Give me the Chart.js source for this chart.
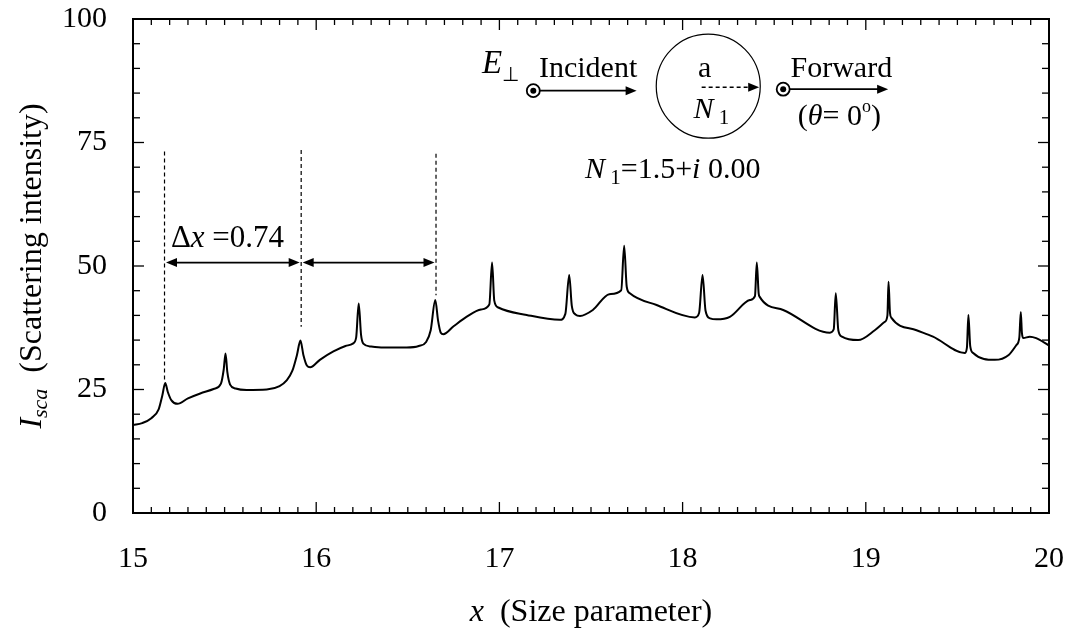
<!DOCTYPE html>
<html>
<head>
<meta charset="utf-8">
<script src="https://cdn.jsdelivr.net/npm/chart.js@4/dist/chart.umd.min.js"></script>
<style>
  body { margin: 0; background: #fff; }
</style>
</head>
<body>
<canvas id="chart" width="1077" height="632"></canvas>
<script>
// size parameter x and forward scattering intensity
const xVals = [
  15.00, 15.05, 15.10, 15.14, 15.16, 15.176, 15.19, 15.21, 15.243, 15.30,
  15.367, 15.44, 15.48, 15.495, 15.505, 15.515, 15.53, 15.56, 15.62, 15.73,
  15.80, 15.84, 15.87, 15.895, 15.914, 15.93, 15.95, 15.967, 16.02, 16.094,
  16.16, 16.20, 16.218, 16.232, 16.245, 16.257, 16.30, 16.367, 16.494, 16.56,
  16.60, 16.625, 16.65, 16.665, 16.68, 16.694, 16.75, 16.82, 16.90, 16.945,
  16.96, 16.972, 16.994, 17.149, 17.33, 17.36, 17.381, 17.395, 17.415, 17.44,
  17.51, 17.60, 17.665, 17.681, 17.695, 17.712, 17.858, 18.067, 18.09, 18.109,
  18.125, 18.15, 18.185, 18.258, 18.367, 18.395, 18.405, 18.415, 18.42, 18.549,
  18.804, 18.825, 18.836, 18.85, 18.87, 18.958, 19.049, 19.104, 19.118, 19.124,
  19.132, 19.14, 19.277, 19.367, 19.54, 19.552, 19.56, 19.57, 19.586, 19.704,
  19.78, 19.822, 19.838, 19.846, 19.852, 19.86, 19.895, 19.93, 20.00
];
const yVals = [
  17.8, 18.2, 19.2, 21.0, 23.8, 26.3, 24.5, 22.8, 22.1, 23.2,
  24.2, 25.1, 26.2, 29.0, 32.3, 28.5, 26.0, 25.2, 24.9, 25.0,
  25.7, 26.9, 28.8, 32.0, 34.9, 32.0, 29.8, 29.5, 31.0, 32.7,
  33.8, 34.3, 35.5, 42.4, 36.0, 34.3, 33.7, 33.5, 33.5, 33.8,
  34.6, 37.0, 43.1, 39.0, 36.5, 36.2, 37.8, 39.7, 41.2, 42.2,
  50.7, 43.0, 41.6, 40.1, 39.1, 40.3, 48.2, 42.0, 40.2, 39.9,
  41.1, 44.3, 45.1, 54.1, 45.8, 44.5, 42.1, 39.6, 40.5, 48.2,
  41.0, 39.4, 39.2, 39.7, 43.1, 43.9, 50.7, 44.5, 43.8, 41.1,
  36.5, 37.2, 44.5, 37.0, 35.7, 35.0, 37.0, 38.7, 40.0, 46.8,
  40.5, 39.5, 37.0, 35.7, 32.4, 33.5, 40.1, 33.8, 32.4, 31.0,
  32.0, 34.0, 35.5, 40.7, 36.5, 35.4, 35.7, 35.4, 33.9
];

const xTicks = [15, 16, 17, 18, 19, 20];
const yTicks = [0, 25, 50, 75, 100];

// resonance spacing markers
const markX = [15.172, 15.918, 16.654];
const markTop = [73.2, 73.5, 72.7];
const markBottom = [26.6, 37.7, 44.1];
const spacingY = 50.7;
const spacingLabel = '0.74';

const SERIF = '"Liberation Serif", "Times New Roman", serif';

function drawRuns(ctx, runs, x, y, align) {
  let w = 0;
  runs.forEach(r => { ctx.font = r.font; r.w = ctx.measureText(r.t).width; w += r.w; });
  let cx = align === 'center' ? x - w / 2 : x;
  ctx.textAlign = 'left';
  ctx.textBaseline = 'alphabetic';
  runs.forEach(r => { ctx.font = r.font; ctx.fillText(r.t, cx, y + (r.dy || 0)); cx += r.w; });
}

function arrowHead(ctx, x1, y1, x2, y2) {
  const ang = Math.atan2(y2 - y1, x2 - x1);
  const len = 11, hw = 4.5;
  ctx.beginPath();
  ctx.moveTo(x2, y2);
  ctx.lineTo(x2 - len * Math.cos(ang) + hw * Math.sin(ang), y2 - len * Math.sin(ang) - hw * Math.cos(ang));
  ctx.lineTo(x2 - len * Math.cos(ang) - hw * Math.sin(ang), y2 - len * Math.sin(ang) + hw * Math.cos(ang));
  ctx.closePath();
  ctx.fill();
}

function line(ctx, x1, y1, x2, y2) {
  ctx.beginPath();
  ctx.moveTo(x1, y1);
  ctx.lineTo(x2, y2);
  ctx.stroke();
}

function dotCircle(ctx, cx, cy) {
  ctx.beginPath();
  ctx.arc(cx, cy, 6.5, 0, Math.PI * 2);
  ctx.stroke();
  ctx.beginPath();
  ctx.arc(cx, cy, 3, 0, Math.PI * 2);
  ctx.fill();
}

// tick label padding should not push the plot area around
function noPad(s) {
  s.paddingTop = 0;
  s.paddingBottom = 0;
  s.paddingLeft = 0;
  s.paddingRight = 0;
}

const decor = {
  id: 'decor',
  afterDatasetsDraw(chart) {
    const { ctx, chartArea: a, scales: { x, y } } = chart;
    const X = v => x.getPixelForValue(v);
    const Y = v => y.getPixelForValue(v);
    ctx.save();
    ctx.strokeStyle = '#000';
    ctx.fillStyle = '#000';

    // frame
    ctx.lineWidth = 2;
    ctx.strokeRect(a.left, a.top, a.right - a.left, a.bottom - a.top);

    // inward ticks
    ctx.lineWidth = 1.3;
    for (let i = 0; i <= 50; i++) {
      const px = X(15 + i * 0.1);
      const len = i % 10 === 0 ? 11 : 6;
      line(ctx, px, a.bottom, px, a.bottom - len);
      line(ctx, px, a.top, px, a.top + len);
    }
    for (let i = 0; i <= 20; i++) {
      const py = Y(i * 5);
      const len = i % 5 === 0 ? 11 : 7;
      line(ctx, a.left, py, a.left + len, py);
      line(ctx, a.right, py, a.right - len, py);
    }

    // dashed markers
    ctx.lineWidth = 1.2;
    ctx.setLineDash([4, 3]);
    markX.forEach((m, i) => line(ctx, X(m), Y(markTop[i]), X(m), Y(markBottom[i])));
    ctx.setLineDash([]);

    // spacing arrows
    ctx.lineWidth = 1.8;
    for (let i = 0; i < markX.length - 1; i++) {
      const x1 = X(markX[i]) + 1.5, x2 = X(markX[i + 1]) - 1.5, py = Y(spacingY);
      line(ctx, x1 + 5, py, x2 - 5, py);
      arrowHead(ctx, x2, py, x1, py);
      arrowHead(ctx, x1, py, x2, py);
    }
    drawRuns(ctx, [
      { t: '\u0394', font: '31px ' + SERIF },
      { t: 'x', font: 'italic 31px ' + SERIF },
      { t: ' =' + spacingLabel, font: '31px ' + SERIF }
    ], X(15.207), Y(53.9), 'left');

    // inset: incident / sphere / forward
    drawRuns(ctx, [
      { t: 'E', font: 'italic 33px ' + SERIF },
      { t: '\u22A5', font: '20px ' + SERIF, dy: 8 }
    ], X(16.905), Y(89.1), 'left');
    ctx.lineWidth = 1.8;
    dotCircle(ctx, X(17.185), Y(85.5));
    line(ctx, X(17.185) + 6.5, Y(85.5), X(17.749) - 6, Y(85.5));
    arrowHead(ctx, X(17.185), Y(85.5), X(17.749), Y(85.5));
    drawRuns(ctx, [{ t: 'Incident', font: '30px ' + SERIF }], X(17.216), Y(88.3), 'left');

    ctx.lineWidth = 1.2;
    ctx.beginPath();
    ctx.arc(X(18.140), Y(86.4), 52, 0, Math.PI * 2);
    ctx.stroke();
    drawRuns(ctx, [{ t: 'a', font: '30px ' + SERIF }], X(18.12), Y(88.3), 'center');
    ctx.lineWidth = 1.5;
    ctx.setLineDash([4, 3]);
    line(ctx, X(18.104), Y(86.2), X(18.418) - 8, Y(86.2));
    ctx.setLineDash([]);
    arrowHead(ctx, X(18.104), Y(86.2), X(18.418), Y(86.2));
    drawRuns(ctx, [
      { t: 'N', font: 'italic 30px ' + SERIF },
      { t: ' 1', font: '21px ' + SERIF, dy: 6 }
    ], X(18.06), Y(80.0), 'left');

    ctx.lineWidth = 1.8;
    dotCircle(ctx, X(18.549), Y(85.8));
    line(ctx, X(18.549) + 6.5, Y(85.8), X(19.122) - 6, Y(85.8));
    arrowHead(ctx, X(18.549), Y(85.8), X(19.122), Y(85.8));
    drawRuns(ctx, [{ t: 'Forward', font: '30px ' + SERIF }], X(18.589), Y(88.3), 'left');
    drawRuns(ctx, [
      { t: '(', font: '30px ' + SERIF },
      { t: '\u03B8', font: 'italic 30px ' + SERIF },
      { t: '= 0', font: '30px ' + SERIF },
      { t: 'o', font: '18px ' + SERIF, dy: -13 },
      { t: ')', font: '30px ' + SERIF }
    ], X(18.629), Y(78.5), 'left');

    drawRuns(ctx, [
      { t: 'N', font: 'italic 30px ' + SERIF },
      { t: ' 1', font: '21px ' + SERIF, dy: 6 },
      { t: '=1.5+', font: '30px ' + SERIF },
      { t: 'i', font: 'italic 30px ' + SERIF },
      { t: ' 0.00', font: '30px ' + SERIF }
    ], X(17.467), Y(67.75), 'left');

    // axis titles
    drawRuns(ctx, [
      { t: 'x', font: 'italic 32px ' + SERIF },
      { t: '  (Size parameter)', font: '32px ' + SERIF }
    ], (a.left + a.right) / 2, 621, 'center');

    ctx.save();
    ctx.translate(41, (a.top + a.bottom) / 2);
    ctx.rotate(-Math.PI / 2);
    drawRuns(ctx, [
      { t: 'I', font: 'italic 32px ' + SERIF },
      { t: 'sca', font: 'italic 22px ' + SERIF, dy: 6 },
      { t: '  (Scattering intensity)', font: '32px ' + SERIF }
    ], 0, 0, 'center');
    ctx.restore();

    ctx.restore();
  }
};

const points = xVals.map((v, i) => ({ x: v, y: yVals[i] }));

new Chart(document.getElementById('chart'), {
  type: 'line',
  data: {
    datasets: [{
      data: points,
      borderColor: '#000',
      borderWidth: 2,
      pointRadius: 0,
      fill: false,
      cubicInterpolationMode: 'monotone'
    }]
  },
  options: {
    responsive: false,
    animation: false,
    devicePixelRatio: 1,
    layout: { padding: { top: 19, right: 28, left: 0, bottom: 0 } },
    plugins: { legend: { display: false }, tooltip: { enabled: false } },
    scales: {
      x: {
        type: 'linear',
        min: 15, max: 20,
        grid: { display: false, drawTicks: false },
        border: { display: false },
        afterFit: s => { s.height = 119; noPad(s); },
        afterBuildTicks: s => { s.ticks = xTicks.map(v => ({ value: v })); },
        ticks: { color: '#000', padding: 28, font: { family: SERIF, size: 30 } }
      },
      y: {
        min: 0, max: 100,
        grid: { display: false, drawTicks: false },
        border: { display: false },
        afterFit: s => { s.width = 133; noPad(s); },
        afterBuildTicks: s => { s.ticks = yTicks.map(v => ({ value: v })); },
        ticks: { color: '#000', padding: 26, font: { family: SERIF, size: 30 } }
      }
    }
  },
  plugins: [decor]
});
</script>
</body>
</html>
